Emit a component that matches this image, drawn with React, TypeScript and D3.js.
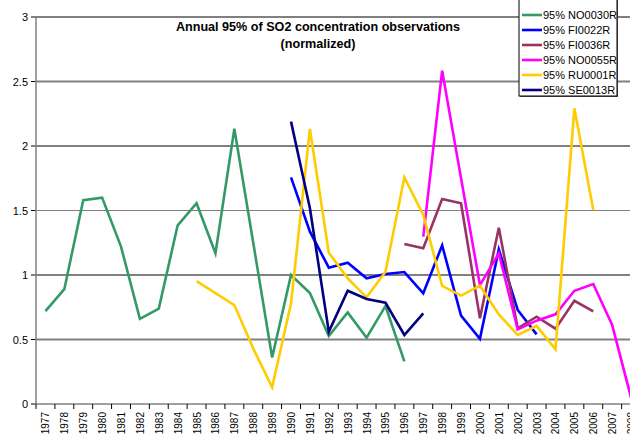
import React from "react";
import * as d3 from "d3";

const years: number[] = [];
for (let y = 1977; y <= 2008; y++) years.push(y);

const NO0030R_years = [1977,1978,1979,1980,1981,1982,1983,1984,1985,1986,1987,1988,1989,1990,1991,1992,1993,1994,1995,1996];
const NO0030R = [0.72,0.89,1.58,1.60,1.22,0.66,0.74,1.385,1.556,1.168,2.134,1.25,0.36,1.0,0.86,0.527,0.71,0.514,0.76,0.33];

const FI0022R_years = [1990,1991,1992,1993,1994,1995,1996,1997,1998,1999,2000,2001,2002,2003];
const FI0022R = [1.757,1.336,1.057,1.095,0.974,1.008,1.023,0.858,1.23,0.685,0.506,1.199,0.729,0.54];

const FI0036R_years = [1996,1997,1998,1999,2000,2001,2002,2003,2004,2005,2006];
const FI0036R = [1.24,1.207,1.589,1.556,0.664,1.367,0.587,0.677,0.584,0.80,0.718];

const NO0055R_years = [1997,1998,1999,2000,2001,2002,2003,2004,2005,2006,2007,2008];
const NO0055R = [1.297,2.584,1.75,0.922,1.168,0.579,0.646,0.695,0.878,0.93,0.612,0.05];

const RU0001R_years = [1985,1986,1987,1988,1989,1990,1991,1992,1993,1994,1995,1996,1997,1998,1999,2000,2001,2002,2003,2004,2005,2006];
const RU0001R = [0.953,0.86,0.767,0.43,0.129,0.78,2.132,1.173,0.974,0.827,1.026,1.757,1.465,0.915,0.84,0.917,0.695,0.535,0.605,0.424,2.292,1.504];

const SE0013R_years = [1990,1991,1992,1993,1994,1995,1996,1997];
const SE0013R = [2.189,1.517,0.56,0.878,0.814,0.785,0.535,0.703];

const yTicks = [0, 0.5, 1, 1.5, 2, 2.5, 3];

const series = [
  { name: "95% NO0030R", color: "#339966", years: NO0030R_years, values: NO0030R },
  { name: "95% FI0022R", color: "#0000FF", years: FI0022R_years, values: FI0022R },
  { name: "95% FI0036R", color: "#993366", years: FI0036R_years, values: FI0036R },
  { name: "95% NO0055R", color: "#FF00FF", years: NO0055R_years, values: NO0055R },
  { name: "95% RU0001R", color: "#FFCC00", years: RU0001R_years, values: RU0001R },
  { name: "95% SE0013R", color: "#000080", years: SE0013R_years, values: SE0013R },
];

export default function App() {
  const W = 630, H = 436;
  const left = 36, right = 640.5, top = 17, bottom = 404;
  const x = d3.scaleBand<number>().domain(years).range([left, right]).padding(0);
  const y = d3.scaleLinear().domain([0, 3]).range([bottom, top]);
  const cx = (yr: number) => (x(yr) as number) + x.bandwidth() / 2;
  const line = d3.line<[number, number]>().x(d => cx(d[0])).y(d => y(d[1]));
  const font = "Liberation Sans, Arial, sans-serif";

  const gridStyle = (v: number) => {
    if (v === 0) return null;
    const isHalf = Math.abs(v % 1 - 0.5) < 1e-6;
    if (isHalf) return { stroke: "#808080", w: v === 1.5 ? 1.2 : 2 };
    return { stroke: "#000", w: 1 };
  };

  return (
    <svg width={W} height={H} style={{ position: "absolute", left: 0, top: 0, display: "block", background: "#fff" }} fontFamily={font}>
      <rect x={0} y={0} width={W} height={H} fill="#fff" />
      {yTicks.map(v => {
        const g = gridStyle(v);
        return (
          <g key={v}>
            {g && <line x1={left} x2={W} y1={y(v)} y2={y(v)} stroke={g.stroke} strokeWidth={g.w} />}
            <line x1={left - 5} x2={left} y1={y(v)} y2={y(v)} stroke="#000" strokeWidth={1} />
            <text x={left - 8} y={y(v) + 4} fontSize={11} textAnchor="end" fill="#000">{v}</text>
          </g>
        );
      })}
      <line x1={left} x2={left} y1={top} y2={bottom} stroke="#808080" strokeWidth={1.5} />
      <line x1={left} x2={W} y1={bottom} y2={bottom} stroke="#808080" strokeWidth={1.5} />
      {years.map((yr, i) => (
        <line key={"t" + yr} x1={left + i * x.bandwidth()} x2={left + i * x.bandwidth()} y1={bottom} y2={bottom + 5} stroke="#000" strokeWidth={1} />
      ))}
      {years.map(yr => (
        <text key={"l" + yr} transform={`translate(${cx(yr) + 4},${bottom + 8}) rotate(-90)`} fontSize={10} textAnchor="end" fill="#000">{yr}</text>
      ))}
      {series.map(s => (
        <path key={s.name} d={line(s.years.map((yr, i) => [yr, s.values[i]] as [number, number])) || ""} fill="none" stroke={s.color} strokeWidth={2.6} strokeLinejoin="miter" />
      ))}
      <text x={318} y={31} fontSize={12.6} fontWeight="bold" textAnchor="middle" fill="#000">Annual 95% of SO2 concentration observations</text>
      <text x={318} y={48} fontSize={12.6} fontWeight="bold" textAnchor="middle" fill="#000">(normalized)</text>
      <g>
        <rect x={520} y={0} width={98} height={97} fill="#606060" />
        <rect x={519} y={-1} width={98} height={97} fill="#fff" stroke="#000" strokeWidth={1} />
        {series.map((s, i) => (
          <g key={"lg" + s.name}>
            <line x1={522} x2={542} y1={15 + i * 15} y2={15 + i * 15} stroke={s.color} strokeWidth={2.6} />
            <text x={543} y={19 + i * 15} fontSize={11} fill="#000">{s.name}</text>
          </g>
        ))}
      </g>
    </svg>
  );
}
